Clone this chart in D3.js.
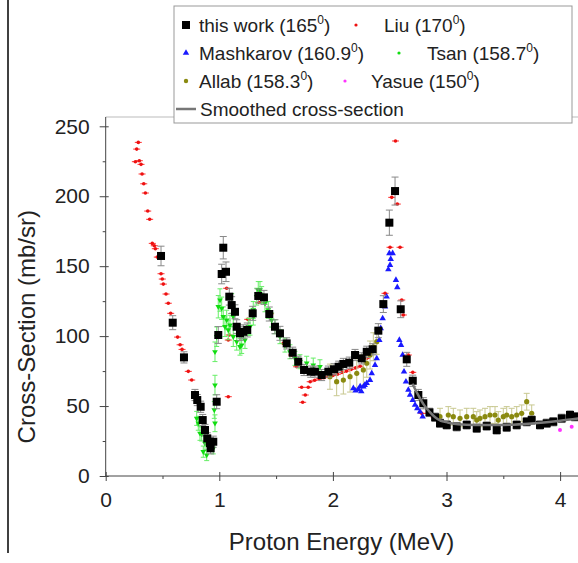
<!DOCTYPE html>
<html>
<head>
<meta charset="utf-8">
<script src="https://cdn.jsdelivr.net/npm/d3@7"></script>
<style>
  body { margin: 0; background: #fff; }
  svg { display: block; font-family: "Liberation Sans", Arial, sans-serif; }
</style>
</head>
<body>
<svg id="chart" width="578" height="563"></svg>
<script>
// ---- data ----
const xTicks = [0, 1, 2, 3, 4];
const xMinor = [0.5, 1.5, 2.5, 3.5];
const yTicks = [0, 50, 100, 150, 200, 250];
const yMinor = [25, 75, 125, 175, 225];

// this work (165 deg), black squares with error bars
const workE = [0.487, 0.59, 0.689, 0.786, 0.806, 0.836, 0.854, 0.874, 0.894, 0.918, 0.924, 0.947, 0.977, 0.991,
  1.021, 1.035, 1.059, 1.088, 1.109, 1.138, 1.153, 1.182, 1.211, 1.246, 1.294, 1.343, 1.393, 1.44, 1.49, 1.534,
  1.593, 1.646, 1.695, 1.746, 1.805, 1.842, 1.901, 1.96, 2.01, 2.051, 2.092, 2.144, 2.195, 2.254, 2.298, 2.35,
  2.40, 2.444, 2.497, 2.547, 2.597, 2.65, 2.703, 2.752, 2.796, 2.85, 2.90, 2.943, 3.002, 3.09, 3.178, 3.266,
  3.354, 3.442, 3.53, 3.618, 3.706, 3.75, 3.823, 3.882, 3.94, 4.014, 4.087, 4.13];
const workCS = [157.3, 109.6, 84.8, 57.9, 54.3, 49.5, 40, 32.9, 26.9, 23.4, 19.8, 24.5, 53.1, 100.8,
  144.4, 163.2, 146, 128.2, 122.2, 117.4, 106.7, 102, 103.1, 104.4, 116.3, 128.7, 127.7, 115.8, 106.7, 102,
  94.8, 88.1, 81.7, 75.8, 74.6, 74.6, 72.2, 74.6, 76.3, 78.1, 80.1, 81, 86.5, 84.1, 88.8, 90.6,
  103.9, 122.9, 181.1, 203.7, 119.2, 83.4, 68.1, 57.9, 52, 45.5, 42, 37.7, 36.5, 35.2, 36.5, 34.1,
  35.7, 32.9, 34.8, 36.5, 38.8, 40, 36.5, 37.7, 38.8, 41.2, 43.6, 42.4];
const workErr = [7, 5, 4, 4, 4, 4, 4, 4, 4, 4, 4, 4, 5, 6,
  7, 8, 7, 6, 6, 5, 5, 5, 5, 5, 5, 5, 5, 5, 5, 5,
  4, 4, 4, 4, 4, 4, 4, 4, 4, 4, 4, 4, 4, 4, 4, 4,
  5, 6, 9, 10, 6, 5, 4, 4, 4, 3, 3, 3, 3, 3, 3, 3,
  3, 3, 3, 3, 3, 3, 3, 3, 3, 3, 3, 3];

// Liu (170 deg), red
const liuE = [0.261, 0.273, 0.287, 0.296, 0.311, 0.320, 0.335, 0.349, 0.370, 0.387, 0.410, 0.428, 0.437, 0.454,
  0.487, 0.498, 0.507, 0.531, 0.551, 0.572, 0.633, 0.655, 0.672, 0.727, 0.757, 1.065, 1.079, 1.079, 1.088,
  1.15, 1.25, 1.35, 1.45, 1.563, 1.637, 1.681, 1.725, 1.734, 1.757, 1.783, 1.80, 1.84, 1.88, 1.92, 1.96, 2.00,
  2.04, 2.08, 2.12, 2.16, 2.20, 2.24, 2.298, 2.459, 2.503, 2.518, 2.551, 2.567, 2.591, 2.606, 2.620, 2.664,
  2.703, 2.782, 2.84, 2.87, 2.914];
const liuCS = [224.7, 233.7, 238.5, 225.4, 222.8, 215.9, 208.9, 202.3, 189.4, 183.5, 166.3, 164.6, 162.5, 156.5,
  144.6, 140.8, 137.2, 130.1, 123.5, 116.3, 99.3, 93.8, 90.5, 74.8, 68.6, 134.2, 56.7, 97.2, 100.8,
  108, 112, 124, 116, 94.8, 86.5, 78.1, 63.4, 52.7, 57.9, 63.4, 67.4, 68.5, 69.5, 70.3, 71, 71.8,
  72.8, 74, 75, 76.2, 77.3, 78.5, 84.1, 130.6, 163.5, 199.2, 239.5, 194.4, 163.5, 125.8, 115.1, 86.5,
  74.1, 44.8, 44.8, 42.9, 42.9];

// Mashkarov (160.9 deg), blue triangles
const mashE = [2.18, 2.20, 2.224, 2.24, 2.25, 2.268, 2.28, 2.298, 2.327, 2.342, 2.371, 2.386, 2.409, 2.421, 2.438,
  2.459, 2.473, 2.488, 2.497, 2.503, 2.509, 2.526, 2.555, 2.567, 2.585, 2.6, 2.614, 2.626, 2.643, 2.664,
  2.679, 2.703, 2.723, 2.743, 2.767, 2.79];
const mashCS = [62.7, 61, 62, 64, 60.5, 63.8, 65, 66.3, 68.6, 73.4, 79.3, 84.1, 97.2, 105.6, 112.7,
  121, 128.2, 147.7, 159.2, 150.8, 155.1, 159.2, 140.1, 134.9, 97.2, 93.6, 86.5, 74.6, 67.4, 61.5,
  57.9, 54.3, 50.8, 48.4, 46, 42.4];

// Tsan (158.7 deg), green
const tsanE = [0.801, 0.815, 0.83, 0.845, 0.859, 0.874, 0.889, 0.947, 0.956, 0.962, 0.962, 0.962, 0.977, 0.991,
  1.006, 1.021, 1.035, 1.05, 1.065, 1.079, 1.094, 1.109, 1.123, 1.123, 1.153, 1.182, 1.197, 1.226, 1.255,
  1.27, 1.299, 1.299, 1.329, 1.343, 1.358, 1.373, 1.402, 1.431, 1.461, 1.49, 1.534, 1.578, 1.622, 1.666,
  1.71, 1.769, 1.827, 1.886];
const tsanCS = [41.2, 37.7, 30.5, 30, 17.4, 23.4, 15, 19.8, 47.2, 37.7, 65, 88.8, 99.6, 121,
  125.8, 119.9, 113.9, 106.7, 111.5, 104.4, 107.9, 123.4, 99.6, 113.9, 96, 92.4, 93.6, 97.2, 106.7,
  106.7, 113.9, 118.7, 128.2, 133, 133, 129.4, 123.4, 118.7, 111.5, 106.7, 99.6, 93.6, 88.8, 84.1,
  81.7, 80.6, 79.3, 78.1];
const tsanErr = [5, 5, 5, 5, 4, 5, 4, 4, 6, 6, 7, 7, 7, 8,
  8, 8, 7, 7, 7, 7, 7, 7, 7, 7, 6, 6, 6, 6, 6,
  6, 6, 6, 6, 6, 6, 6, 6, 6, 5, 5, 5, 5, 5, 5,
  5, 5, 5, 5];

// Allab (158.3 deg), olive
const allabE = [1.974, 2.033, 2.092, 2.151, 2.21, 2.268, 2.298, 2.327, 2.356, 2.386, 2.943, 3.016, 3.06, 3.119,
  3.178, 3.236, 3.266, 3.295, 3.339, 3.383, 3.427, 3.456, 3.5, 3.53, 3.574, 3.618, 3.662, 3.706, 3.75];
const allabCS = [71, 67.4, 68.6, 71, 73.4, 75.8, 80.6, 86.5, 92.4, 96, 42.4, 43.6, 42.4, 41.2,
  42.4, 42.4, 40, 41.2, 42.4, 43.6, 43.6, 40, 42.4, 43.6, 42.4, 43.6, 44.8, 53.1, 44.8];
const allabErr = [9, 10, 10, 11, 11, 11, 10, 10, 10, 9, 6, 6, 6, 6,
  6, 6, 6, 6, 6, 6, 6, 6, 6, 6, 6, 6, 6, 6, 6];

// Yasue (150 deg), magenta
const yasueE = [3.999, 4.102];
const yasueCS = [32.9, 35.2];

// smoothed cross-section
const smoothE = [2.70, 2.75, 2.80, 2.85, 2.90, 2.95, 3.00, 3.10, 3.25, 3.50, 3.75, 4.00, 4.20];
const smoothCS = [66, 58, 51, 46, 42, 39.5, 38.5, 37, 36.5, 36.5, 37.5, 39.5, 41.5];

// ---- layout ----
const svg = d3.select("#chart");
const x0 = 105.7, yBase = 476, yTop = 117;
const x = d3.scaleLinear().domain([0, 4.2]).range([x0, x0 + 4.2 * 113.6]);
const y = d3.scaleLinear().domain([0, 250]).range([yBase, 126.3]);

const zip = (a, b, c) => a.map((v, i) => ({ e: v, cs: b[i], err: c ? c[i] : 0 }));

// page border line at left
svg.append("line").attr("x1", 8).attr("x2", 8).attr("y1", 0).attr("y2", 553)
  .attr("stroke", "#000").attr("stroke-width", 1.5);

svg.append("defs").append("clipPath").attr("id", "clip")
  .append("rect").attr("x", x0).attr("y", yTop).attr("width", 578 - x0).attr("height", yBase - yTop + 6);

// top frame line
svg.append("line").attr("x1", x0).attr("x2", 578).attr("y1", yTop).attr("y2", yTop)
  .attr("stroke", "#bbb");

// axes
const gx = svg.append("g").attr("transform", `translate(0,${yBase})`)
  .call(d3.axisBottom(x).tickValues(xTicks).tickSize(5).tickPadding(11).tickSizeOuter(0).tickFormat(d3.format("d")));
gx.selectAll(".tick line").attr("y1", -4);
svg.append("g").attr("transform", `translate(0,${yBase})`)
  .call(d3.axisBottom(x).tickValues(xMinor).tickSize(3).tickFormat(""))
  .select(".domain").remove();
gx.select(".domain").attr("d", `M${x0},0H578`);

const gy = svg.append("g").attr("transform", `translate(${x0},0)`)
  .call(d3.axisLeft(y).tickValues(yTicks).tickSize(6).tickPadding(10).tickSizeOuter(0));
gy.selectAll(".tick line").attr("x1", 3);
svg.append("g").attr("transform", `translate(${x0},0)`)
  .call(d3.axisLeft(y).tickValues(yMinor).tickSize(3).tickFormat(""))
  .select(".domain").remove();
gy.select(".domain").attr("d", `M0,${yBase}V${yTop}`);

svg.selectAll(".domain, .tick line").attr("stroke", "#444");
svg.selectAll(".tick text").attr("font-size", 21).attr("font-family", "Liberation Sans, Arial, sans-serif")
  .attr("fill", "#222");

// axis titles
svg.append("text").attr("x", 341.5).attr("y", 550).attr("text-anchor", "middle")
  .attr("font-size", 24).attr("fill", "#222").text("Proton Energy (MeV)");
svg.append("text").attr("transform", "translate(35,326.7) rotate(-90)").attr("text-anchor", "middle")
  .attr("font-size", 24).attr("fill", "#222").text("Cross-Section (mb/sr)");

// ---- data marks ----
const plot = svg.append("g").attr("clip-path", "url(#clip)");

function errorBars(data, color, cap, width) {
  const g = plot.append("g").attr("stroke", color).attr("stroke-width", width || 1);
  g.selectAll(".v").data(data).join("line")
    .attr("x1", d => x(d.e)).attr("x2", d => x(d.e))
    .attr("y1", d => y(d.cs + d.err)).attr("y2", d => y(d.cs - d.err));
  g.selectAll(".t").data(data).join("line")
    .attr("x1", d => x(d.e) - cap).attr("x2", d => x(d.e) + cap)
    .attr("y1", d => y(d.cs + d.err)).attr("y2", d => y(d.cs + d.err));
  g.selectAll(".b").data(data).join("line")
    .attr("x1", d => x(d.e) - cap).attr("x2", d => x(d.e) + cap)
    .attr("y1", d => y(d.cs - d.err)).attr("y2", d => y(d.cs - d.err));
}

// Liu: small red dots with short horizontal bars
const liu = zip(liuE, liuCS);
plot.append("g").selectAll("line").data(liu).join("line")
  .attr("x1", d => x(d.e) - 3.5).attr("x2", d => x(d.e) + 3.5)
  .attr("y1", d => y(d.cs)).attr("y2", d => y(d.cs))
  .attr("stroke", "#ff3030").attr("stroke-width", 1);
plot.append("g").selectAll("circle").data(liu).join("circle")
  .attr("cx", d => x(d.e)).attr("cy", d => y(d.cs)).attr("r", 1.8).attr("fill", "#ee1111");

// Tsan: green
const tsan = zip(tsanE, tsanCS, tsanErr);
errorBars(tsan, "#66ee66", 2.5);
plot.append("g").selectAll("path").data(tsan).join("path")
  .attr("d", d3.symbol(d3.symbolTriangle, 14))
  .attr("transform", d => `translate(${x(d.e)},${y(d.cs)}) rotate(180)`)
  .attr("fill", "#11dd11");

// Allab: olive
const allab = zip(allabE, allabCS, allabErr);
errorBars(allab, "#c8c890", 3);
plot.append("g").selectAll("circle").data(allab).join("circle")
  .attr("cx", d => x(d.e)).attr("cy", d => y(d.cs)).attr("r", 2.6).attr("fill", "#8a8a10");

// Mashkarov: blue triangles
const mash = zip(mashE, mashCS);
plot.append("g").selectAll("path").data(mash).join("path")
  .attr("d", d3.symbol(d3.symbolTriangle, 18))
  .attr("transform", d => `translate(${x(d.e)},${y(d.cs)})`)
  .attr("fill", "#1a1aff");

// Yasue: magenta
plot.append("g").selectAll("circle").data(zip(yasueE, yasueCS)).join("circle")
  .attr("cx", d => x(d.e)).attr("cy", d => y(d.cs)).attr("r", 2).attr("fill", "#ff33ff");

// this work: black squares
const work = zip(workE, workCS, workErr);
errorBars(work, "#888", 3.5);
plot.append("g").selectAll("rect").data(work).join("rect")
  .attr("x", d => x(d.e) - 4).attr("y", d => y(d.cs) - 4)
  .attr("width", 8).attr("height", 8).attr("fill", "#000");

// smoothed line
plot.append("path").datum(zip(smoothE, smoothCS))
  .attr("d", d3.line().x(d => x(d.e)).y(d => y(d.cs)).curve(d3.curveMonotoneX))
  .attr("fill", "none").attr("stroke", "#777").attr("stroke-width", 2.5);

// ---- legend ----
const lg = svg.append("g");
lg.append("rect").attr("x", 174).attr("y", 6).attr("width", 398).attr("height", 117)
  .attr("fill", "#fff").attr("stroke", "#999");

function legendText(tx, ty, main) {
  const t = lg.append("text").attr("x", tx).attr("y", ty).attr("font-size", 19).attr("fill", "#222");
  t.append("tspan").text(main);
  t.append("tspan").attr("font-size", 12).attr("dy", -8).text("0");
  t.append("tspan").attr("dy", 8).text(")");
}
legendText(199, 32, "this work (165");
legendText(384, 32, "Liu (170");
legendText(199, 60, "Mashkarov (160.9");
legendText(427, 60, "Tsan (158.7");
legendText(199, 88, "Allab (158.3");
legendText(371, 88, "Yasue (150");
lg.append("text").attr("x", 200).attr("y", 116).attr("font-size", 19).attr("fill", "#222")
  .text("Smoothed cross-section");

lg.append("rect").attr("x", 182).attr("y", 21).attr("width", 8).attr("height", 8).attr("fill", "#000");
lg.append("circle").attr("cx", 356).attr("cy", 25).attr("r", 1.6).attr("fill", "#ee1111");
lg.append("path").attr("d", d3.symbol(d3.symbolTriangle, 18)).attr("transform", "translate(186,53)").attr("fill", "#1a1aff");
lg.append("circle").attr("cx", 399).attr("cy", 53).attr("r", 1.6).attr("fill", "#11dd11");
lg.append("circle").attr("cx", 186).attr("cy", 81).attr("r", 2.2).attr("fill", "#8a8a10");
lg.append("circle").attr("cx", 345).attr("cy", 81).attr("r", 1.6).attr("fill", "#ff33ff");
lg.append("line").attr("x1", 176).attr("x2", 196).attr("y1", 109).attr("y2", 109)
  .attr("stroke", "#777").attr("stroke-width", 2.5);
</script>
</body>
</html>
